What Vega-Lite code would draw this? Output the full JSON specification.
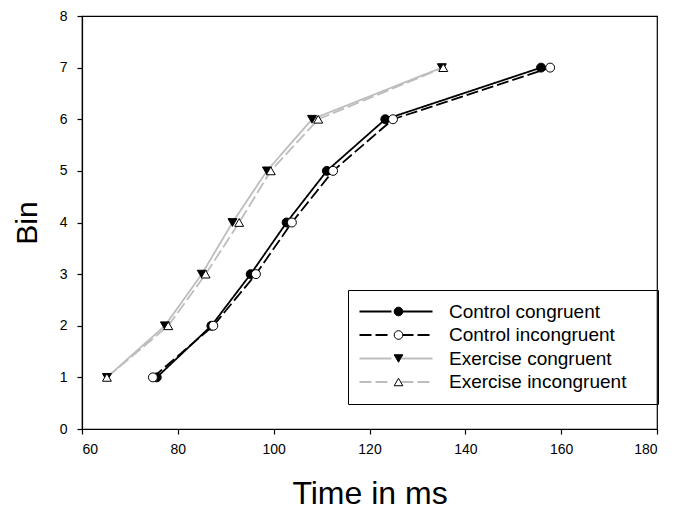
{
  "$schema": "https://vega.github.io/schema/vega-lite/v6.json",
  "width": 575,
  "height": 413,
  "autosize": {"type": "none"},
  "padding": {"left": 82, "top": 16, "right": 27, "bottom": 80},
  "background": "white",
  "config": {
    "view": {"stroke": "black", "strokeWidth": 1.2},
    "font": "Liberation Sans",
    "axis": {
      "grid": false,
      "domainColor": "black",
      "domainWidth": 1.2,
      "tickColor": "black",
      "tickSize": 5,
      "tickWidth": 1.2,
      "labelColor": "black",
      "labelFont": "Liberation Sans",
      "labelFontSize": 14,
      "titleColor": "black",
      "titleFont": "Liberation Sans",
      "titleFontWeight": "normal"
    }
  },
  "data": {
    "values": [
      {"series": "Control congruent", "time": 75.6, "bin": 1},
      {"series": "Control congruent", "time": 87.0, "bin": 2},
      {"series": "Control congruent", "time": 95.2, "bin": 3},
      {"series": "Control congruent", "time": 102.7, "bin": 4},
      {"series": "Control congruent", "time": 111.1, "bin": 5},
      {"series": "Control congruent", "time": 123.3, "bin": 6},
      {"series": "Control congruent", "time": 155.8, "bin": 7},
      {"series": "Control incongruent", "time": 74.8, "bin": 1},
      {"series": "Control incongruent", "time": 87.4, "bin": 2},
      {"series": "Control incongruent", "time": 96.3, "bin": 3},
      {"series": "Control incongruent", "time": 103.8, "bin": 4},
      {"series": "Control incongruent", "time": 112.4, "bin": 5},
      {"series": "Control incongruent", "time": 124.9, "bin": 6},
      {"series": "Control incongruent", "time": 157.7, "bin": 7},
      {"series": "Exercise congruent", "time": 65.2, "bin": 1},
      {"series": "Exercise congruent", "time": 77.3, "bin": 2},
      {"series": "Exercise congruent", "time": 85.0, "bin": 3},
      {"series": "Exercise congruent", "time": 91.4, "bin": 4},
      {"series": "Exercise congruent", "time": 98.6, "bin": 5},
      {"series": "Exercise congruent", "time": 108.0, "bin": 6},
      {"series": "Exercise congruent", "time": 135.1, "bin": 7},
      {"series": "Exercise incongruent", "time": 65.2, "bin": 1},
      {"series": "Exercise incongruent", "time": 78.0, "bin": 2},
      {"series": "Exercise incongruent", "time": 85.8, "bin": 3},
      {"series": "Exercise incongruent", "time": 92.8, "bin": 4},
      {"series": "Exercise incongruent", "time": 99.4, "bin": 5},
      {"series": "Exercise incongruent", "time": 109.3, "bin": 6},
      {"series": "Exercise incongruent", "time": 135.4, "bin": 7}
    ]
  },
  "encoding": {
    "x": {
      "field": "time",
      "type": "quantitative",
      "scale": {"domain": [60, 180], "nice": false, "zero": false},
      "axis": {
        "values": [60, 80, 100, 120, 140, 160, 180],
        "title": "Time in ms",
        "titleFontSize": 32,
        "labelPadding": 8,
        "titlePadding": 22
      }
    },
    "y": {
      "field": "bin",
      "type": "quantitative",
      "scale": {"domain": [0, 8], "nice": false},
      "axis": {
        "values": [0, 1, 2, 3, 4, 5, 6, 7, 8],
        "title": "Bin",
        "titleFontSize": 30,
        "labelPadding": 10,
        "titlePadding": 17
      }
    }
  },
  "layer": [
    {
      "mark": {"type": "line", "strokeWidth": 1.8},
      "encoding": {
        "color": {
          "field": "series",
          "type": "nominal",
          "scale": {
            "domain": ["Control congruent", "Control incongruent", "Exercise congruent", "Exercise incongruent"],
            "range": ["#000000", "#000000", "#bdbdbd", "#bdbdbd"]
          },
          "legend": {
            "title": null,
            "orient": "none",
            "legendX": 266,
            "legendY": 274,
            "padding": 12,
            "symbolType": "M-2,0H4.4M6.4,0H12.6",
            "symbolSize": 100,
            "symbolStrokeWidth": 1.8,
            "labelOffset": 70,
            "labelLimit": 300,
            "labelFontSize": 19,
            "labelFont": "Liberation Sans",
            "labelColor": "black",
            "rowPadding": 3.5
          }
        },
        "strokeDash": {
          "field": "series",
          "type": "nominal",
          "scale": {
            "domain": ["Control congruent", "Control incongruent", "Exercise congruent", "Exercise incongruent"],
            "range": [[1, 0], [12, 4], [1, 0], [12, 4]]
          },
          "legend": {
            "title": null,
            "orient": "none",
            "legendX": 266,
            "legendY": 274,
            "padding": 12,
            "symbolType": "M-2,0H4.4M6.4,0H12.6",
            "symbolSize": 100,
            "symbolStrokeWidth": 1.8,
            "labelOffset": 70,
            "labelLimit": 300,
            "labelFontSize": 19,
            "labelFont": "Liberation Sans",
            "labelColor": "black",
            "rowPadding": 3.5
          }
        }
      }
    },
    {
      "mark": {"type": "point", "filled": true, "strokeWidth": 1, "size": 80, "opacity": 1},
      "encoding": {
        "shape": {
          "field": "series",
          "type": "nominal",
          "scale": {"range": ["circle", "circle", "triangle-down", "triangle-up"]},
          "legend": {
            "title": null,
            "orient": "none",
            "legendX": 266,
            "legendY": 274,
            "padding": 12,
            "symbolOffset": 29,
            "symbolSize": 75,
            "symbolStrokeWidth": 1,
            "labelExpr": "' '",
            "labelOffset": 238,
            "labelFontSize": 19,
            "labelFont": "Liberation Sans",
            "rowPadding": 3.5,
            "strokeColor": "black"
          }
        },
        "fill": {
          "field": "series",
          "type": "nominal",
          "scale": {"range": ["#000000", "#ffffff", "#000000", "#ffffff"]},
          "legend": {
            "title": null,
            "orient": "none",
            "legendX": 266,
            "legendY": 274,
            "padding": 12,
            "symbolOffset": 29,
            "symbolSize": 75,
            "symbolStrokeWidth": 1,
            "labelExpr": "' '",
            "labelOffset": 238,
            "labelFontSize": 19,
            "labelFont": "Liberation Sans",
            "rowPadding": 3.5,
            "strokeColor": "black"
          }
        },
        "stroke": {
          "field": "series",
          "type": "nominal",
          "scale": {"range": ["#000000", "#000000", "#000000", "#000000"]},
          "legend": {
            "title": null,
            "orient": "none",
            "legendX": 266,
            "legendY": 274,
            "padding": 12,
            "symbolOffset": 29,
            "symbolSize": 75,
            "symbolStrokeWidth": 1,
            "labelExpr": "' '",
            "labelOffset": 238,
            "labelFontSize": 19,
            "labelFont": "Liberation Sans",
            "rowPadding": 3.5,
            "strokeColor": "black"
          }
        }
      }
    }
  ]
}
